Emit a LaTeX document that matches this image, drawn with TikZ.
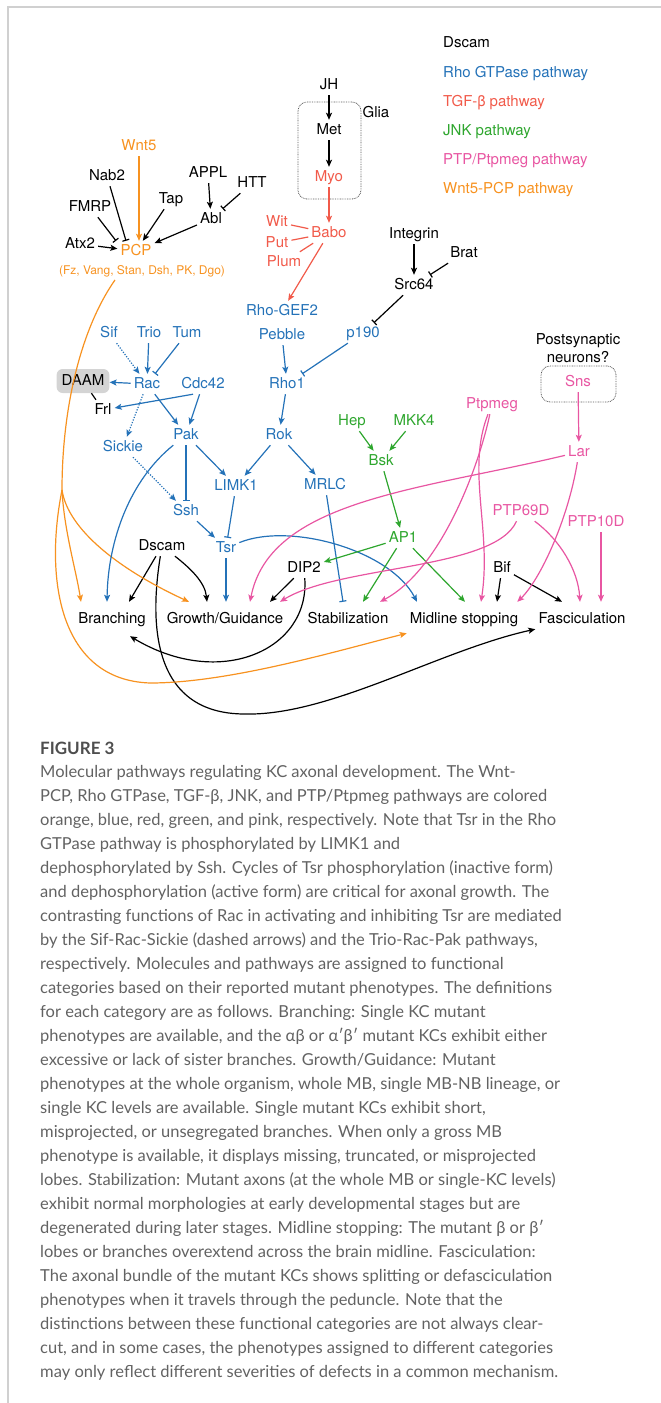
\documentclass[tikz,border=0pt]{standalone}
\usepackage{fontspec}
\setmainfont{TeX Gyre Heros}
\newfontfamily\capfont{Lato}
\usetikzlibrary{arrows.meta}

\definecolor{rhoblue}{RGB}{36,114,184}
\definecolor{tgfred}{RGB}{241,90,74}
\definecolor{jnkgreen}{RGB}{46,166,46}
\definecolor{ptppink}{RGB}{232,86,162}
\definecolor{wntorange}{RGB}{247,146,32}
\definecolor{framegray}{RGB}{208,208,208}
\definecolor{daamgray}{RGB}{212,212,212}
\definecolor{capgray}{RGB}{98,98,98}

\tikzset{
	mol/.style={inner sep=3pt, text height=11pt, text depth=3pt, font=\fontsize{15}{18}\selectfont},
	cat/.style={mol, inner ysep=10pt},
	rho/.style={mol, text=rhoblue},
	tgf/.style={mol, text=tgfred},
	jnk/.style={mol, text=jnkgreen},
	ptp/.style={mol, text=ptppink},
	wnt/.style={mol, text=wntorange},
	legend/.style={mol, anchor=west},
	act/.style={-{Stealth[length=7pt,width=6pt,inset=1.5pt]}, line width=1.2pt},
	inh/.style={-{Bar[width=7pt]}, line width=1.2pt},
	lnk/.style={line width=1.2pt},
	sickdash/.style={dash pattern=on 1.2pt off 1.5pt},
	cellbox/.style={draw=black!65, dash pattern=on 0.8pt off 0.9pt, line width=0.8pt, rounded corners=9pt},
}

\begin{document}
\begin{tikzpicture}[x=1pt,y=-1pt]
	\useasboundingbox (0,0) rectangle (661,1403);
	\draw[framegray, line width=1.5pt] (661,7) -- (8,7) -- (8,1403);

	%%%%% legend %%%%%
	\node[legend] (lgDscam) at (440,43) {Dscam};
	\node[legend, text=rhoblue] (lgRho) at (440,73) {Rho GTPase pathway};
	\node[legend, text=tgfred] (lgTGF) at (440,102) {TGF-β pathway};
	\node[legend, text=jnkgreen] (lgJNK) at (440,131) {JNK pathway};
	\node[legend, text=ptppink] (lgPTP) at (440,160) {PTP/Ptpmeg pathway};
	\node[legend, text=wntorange] (lgWnt) at (440,189) {Wnt5-PCP pathway};

	%%%%% glia %%%%%
	\node[cellbox, minimum width=63pt, minimum height=97pt] (gliabox) at (329.5,150.5) {};
	\node[mol] (Glia) at (376,113) {Glia};
	\node[mol] (JH) at (329,85) {JH};
	\node[mol] (Met) at (329,130) {Met};
	\node[tgf] (Myo) at (329,177) {Myo};
	\node[tgf] (Babo) at (329,233) {Babo};
	\node[tgf] (Wit) at (277,222) {Wit};
	\node[tgf] (Put) at (277,243) {Put};
	\node[tgf] (Plum) at (284,262) {Plum};

	%%%%% PCP %%%%%
	\node[wnt] (Wnt5) at (139,146) {Wnt5};
	\node[mol] (Nab2) at (107,176) {Nab2};
	\node[mol] (APPL) at (208,173) {APPL};
	\node[mol] (HTT) at (252,183) {HTT};
	\node[mol] (Tap) at (171,199) {Tap};
	\node[mol] (FMRP) at (90,207) {FMRP};
	\node[mol] (Abl) at (211,219) {Abl};
	\node[mol] (Atx2) at (80,244) {Atx2};
	\node[wnt] (PCP) at (136,251) {PCP};
	\node[wnt, font=\fontsize{12}{14}\selectfont, text height=9pt, text depth=2.5pt] (PCPlist) at (142,271) {(Fz, Vang, Stan, Dsh, PK, Dgo)};

	%%%%% Src64 %%%%%
	\node[mol] (Integrin) at (414,234) {Integrin};
	\node[mol] (Brat) at (464,253) {Brat};
	\node[mol] (Src64) at (414,285) {Src64};

	%%%%% Rho GTPase %%%%%
	\node[rho] (RhoGEF) at (282,311) {Rho-GEF2};
	\node[rho] (Pebble) at (282,335) {Pebble};
	\node[rho] (p190) at (363,333) {p190};
	\node[rho] (Sif) at (109,333) {Sif};
	\node[rho] (Trio) at (149,333) {Trio};
	\node[rho] (Tum) at (187,333) {Tum};
	\node[mol, fill=daamgray, rounded corners=6pt, inner xsep=5pt, inner ysep=5pt] (DAAM) at (83,381) {DAAM};
	\node[rho] (Rac) at (147,384) {Rac};
	\node[rho] (Cdc42) at (203,384) {Cdc42};
	\node[rho] (Rho1) at (287,384) {Rho1};
	\node[mol] (Frl) at (103,410) {Frl};
	\node[rho] (Pak) at (186,435) {Pak};
	\node[rho] (Rok) at (279,435) {Rok};
	\node[rho] (Sickie) at (123,447) {Sickie};
	\node[rho] (LIMK1) at (236,486) {LIMK1};
	\node[rho] (MRLC) at (325,485) {MRLC};
	\node[rho] (Ssh) at (186,511) {Ssh};
	\node[rho] (Tsr) at (226,548) {Tsr};

	\node[mol] (Dscam) at (162,546) {Dscam};
	\node[mol] (DIP2) at (304,568) {DIP2};
	\node[mol] (Bif) at (502,568) {Bif};

	%%%%% JNK %%%%%
	\node[jnk] (Hep) at (352,421) {Hep};
	\node[jnk] (MKK4) at (414,421) {MKK4};
	\node[jnk] (Bsk) at (381,461) {Bsk};
	\node[jnk] (AP1) at (403,538) {AP1};

	%%%%% PTP %%%%%
	\node[font=\fontsize{15}{18}\selectfont, align=center, inner sep=0pt] (postsyn) at (578,348) {Postsynaptic\\neurons?};
	\node[cellbox, minimum width=75pt, minimum height=36pt] (snsbox) at (578.5,384) {};
	\node[ptp] (Sns) at (578,382) {Sns};
	\node[ptp] (Ptpmeg) at (492,404) {Ptpmeg};
	\node[ptp] (Lar) at (579,452) {Lar};
	\node[ptp] (PTP69D) at (521,511) {PTP69D};
	\node[ptp] (PTP10D) at (596,522) {PTP10D};

	%%%%% categories %%%%%
	\node[cat] (Branching) at (112,619) {Branching};
	\node[cat] (Growth) at (225,619) {Growth/Guidance};
	\node[cat] (Stabil) at (348,619) {Stabilization};
	\node[cat] (Midline) at (464,619) {Midline stopping};
	\node[cat] (Fasc) at (582,619) {Fasciculation};

	% black
	\draw[act] (JH) -- (Met);
	\draw[act] (Met) -- (Myo);
	\draw[act] (APPL) -- (Abl);
	\draw[inh] (HTT) -- (Abl);
	\draw[act] (Tap) -- (PCP);
	\draw[act] (Abl) -- (PCP);
	\draw[act] (Atx2) -- (PCP);
	\draw[inh] (Nab2) -- ([xshift=-10pt]PCP.north);
	\draw[inh] (FMRP) -- ([xshift=-20pt]PCP.north);
	\draw[act] (Integrin) -- (Src64);
	\draw[inh] (Brat) -- (Src64);
	\draw[inh] (Src64) -- (p190);
	\draw[lnk] (DAAM) -- (Frl);
	\draw[act] (Dscam) -- ([xshift=17pt]Branching.north);
	\draw[act] (Dscam) .. controls (190,568) and (205,582) .. ([xshift=-18pt]Growth.north);
	\draw[act] (Dscam) .. controls (150,620) and (150,714) .. (245,714) .. controls (330,716) and (440,650) .. (Fasc);
	\draw[act] (DIP2) -- ([xshift=45pt]Growth.north);
	\draw[act] (DIP2) .. controls (310,650) and (220,690) .. ([xshift=18pt]Branching.south);
	\draw[act] (Bif) -- ([xshift=33pt]Midline.north);
	\draw[act] (Bif) -- ([xshift=-20pt]Fasc.north);

	% Wnt5-PCP
	\coordinate (wntfork) at (62,490);
	\draw[wntorange, act] (Wnt5) -- (Wnt5 |- PCP.north);
	\draw[wntorange, lnk] ([xshift=-27pt]PCPlist.south) .. controls (80,330) and (62,410) .. (wntfork);
	\draw[wntorange, act] (wntfork) .. controls (64,530) and (76,570) .. ([xshift=-31pt]Branching.north);
	\draw[wntorange, act] (wntfork) .. controls (68,530) and (120,570) .. ([xshift=-36pt]Growth.north);
	\draw[wntorange, act] (wntfork) .. controls (44,580) and (60,680) .. (150,683) .. controls (230,683) and (340,650) .. (Midline);

	% TGF-beta
	\draw[tgfred, act] (Myo) -- (Babo);
	\draw[tgfred, lnk] (Wit) -- (Babo);
	\draw[tgfred, lnk] (Put) -- (Babo);
	\draw[tgfred, lnk] (Plum) -- (Babo);
	\draw[tgfred, act] (Babo) -- (RhoGEF);

	% Rho GTPase
	\draw[rhoblue, act, sickdash] (Sif) -- (Rac);
	\draw[rhoblue, act] (Trio) -- (Rac);
	\draw[rhoblue, inh] (Tum) -- (Rac);
	\draw[rhoblue, act] (Rac) -- (DAAM);
	\draw[rhoblue, act] ([xshift=-10pt]Cdc42.south) -- (Frl);
	\draw[rhoblue, act] (Cdc42) -- (Pak);
	\draw[rhoblue, act] (Rac) -- (Pak);
	\draw[rhoblue, act, sickdash] (Rac) -- (Sickie);
	\draw[rhoblue, act] (Pebble) -- (Rho1);
	\draw[rhoblue, inh] (p190) -- (Rho1);
	\draw[rhoblue, act] (Rho1) -- (Rok);
	\draw[rhoblue, act] (Pak) -- (LIMK1);
	\draw[rhoblue, inh] (Pak) -- (Ssh);
	\draw[rhoblue, act] (Pak) .. controls (130,480) and (108,540) .. ([xshift=-5pt]Branching.north);
	\draw[rhoblue, act] (Rok) -- (LIMK1);
	\draw[rhoblue, act] (Rok) -- (MRLC);
	\draw[rhoblue, act, sickdash] (Sickie) -- (Ssh);
	\draw[rhoblue, act] (Ssh) -- (Tsr);
	\draw[rhoblue, inh] (LIMK1) -- (Tsr);
	\draw[rhoblue, act] (Tsr) -- (Tsr |- Growth.north);
	\draw[rhoblue, act] (Tsr) .. controls (290,522) and (390,550) .. ([xshift=-47pt]Midline.north);
	\draw[rhoblue, inh] (MRLC) -- ([xshift=-5pt]Stabil.north);

	% JNK
	\draw[jnkgreen, act] (Hep) -- (Bsk);
	\draw[jnkgreen, act] (MKK4) -- (Bsk);
	\draw[jnkgreen, act] (Bsk) -- (AP1);
	\draw[jnkgreen, act] (AP1) -- (DIP2);
	\draw[jnkgreen, act] (AP1) -- ([xshift=15pt]Stabil.north);
	\draw[jnkgreen, act] (AP1) -- ([xshift=1pt]Midline.north);

	% PTP
	\draw[ptppink, act] (Sns) -- (Lar);
	\draw[ptppink, act] (Lar) .. controls (420,490) and (270,500) .. ([xshift=25pt]Growth.north);
	\draw[ptppink, act] (Lar) .. controls (568,520) and (540,580) .. ([xshift=-4pt]Midline.north east);
	\draw[ptppink, act] (Ptpmeg) .. controls (478,470) and (440,570) .. ([xshift=32pt]Stabil.north);
	\draw[ptppink, act] (Ptpmeg) .. controls (466,470) and (492,530) .. ([xshift=17pt]Midline.north);
	\draw[ptppink, act] (PTP69D) .. controls (495,570) and (340,565) .. ([xshift=55pt]Growth.north);
	\draw[ptppink, act] (PTP69D) .. controls (560,540) and (578,570) .. ([xshift=-2pt]Fasc.north);
	\draw[ptppink, act] ([xshift=5pt]PTP10D.south) -- ([xshift=19pt]Fasc.north);

	%%%%% caption %%%%%
	\node[anchor=base west, inner sep=0pt, text=capgray!80!black, font=\capfont\bfseries\fontsize{17}{20}\selectfont] (figlabel) at (40,754) {FIGURE 3};
	\node[anchor=north west, inner sep=0pt, align=left, text=capgray, font=\capfont\fontsize{16.5}{24}\selectfont] (caption) at (40,765) {Molecular pathways regulating KC axonal development. The Wnt-\\
PCP, Rho GTPase, TGF-β, JNK, and PTP/Ptpmeg pathways are colored\\
orange, blue, red, green, and pink, respectively. Note that Tsr in the Rho\\
GTPase pathway is phosphorylated by LIMK1 and\\
dephosphorylated by Ssh. Cycles of Tsr phosphorylation (inactive form)\\
and dephosphorylation (active form) are critical for axonal growth. The\\
contrasting functions of Rac in activating and inhibiting Tsr are mediated\\
by the Sif-Rac-Sickie (dashed arrows) and the Trio-Rac-Pak pathways,\\
respectively. Molecules and pathways are assigned to functional\\
categories based on their reported mutant phenotypes. The definitions\\
for each category are as follows. Branching: Single KC mutant\\
phenotypes are available, and the αβ or α′β′ mutant KCs exhibit either\\
excessive or lack of sister branches. Growth/Guidance: Mutant\\
phenotypes at the whole organism, whole MB, single MB-NB lineage, or\\
single KC levels are available. Single mutant KCs exhibit short,\\
misprojected, or unsegregated branches. When only a gross MB\\
phenotype is available, it displays missing, truncated, or misprojected\\
lobes. Stabilization: Mutant axons (at the whole MB or single-KC levels)\\
exhibit normal morphologies at early developmental stages but are\\
degenerated during later stages. Midline stopping: The mutant β or β′\\
lobes or branches overextend across the brain midline. Fasciculation:\\
The axonal bundle of the mutant KCs shows splitting or defasciculation\\
phenotypes when it travels through the peduncle. Note that the\\
distinctions between these functional categories are not always clear-\\
cut, and in some cases, the phenotypes assigned to different categories\\
may only reflect different severities of defects in a common mechanism.};
\end{tikzpicture}
\end{document}
